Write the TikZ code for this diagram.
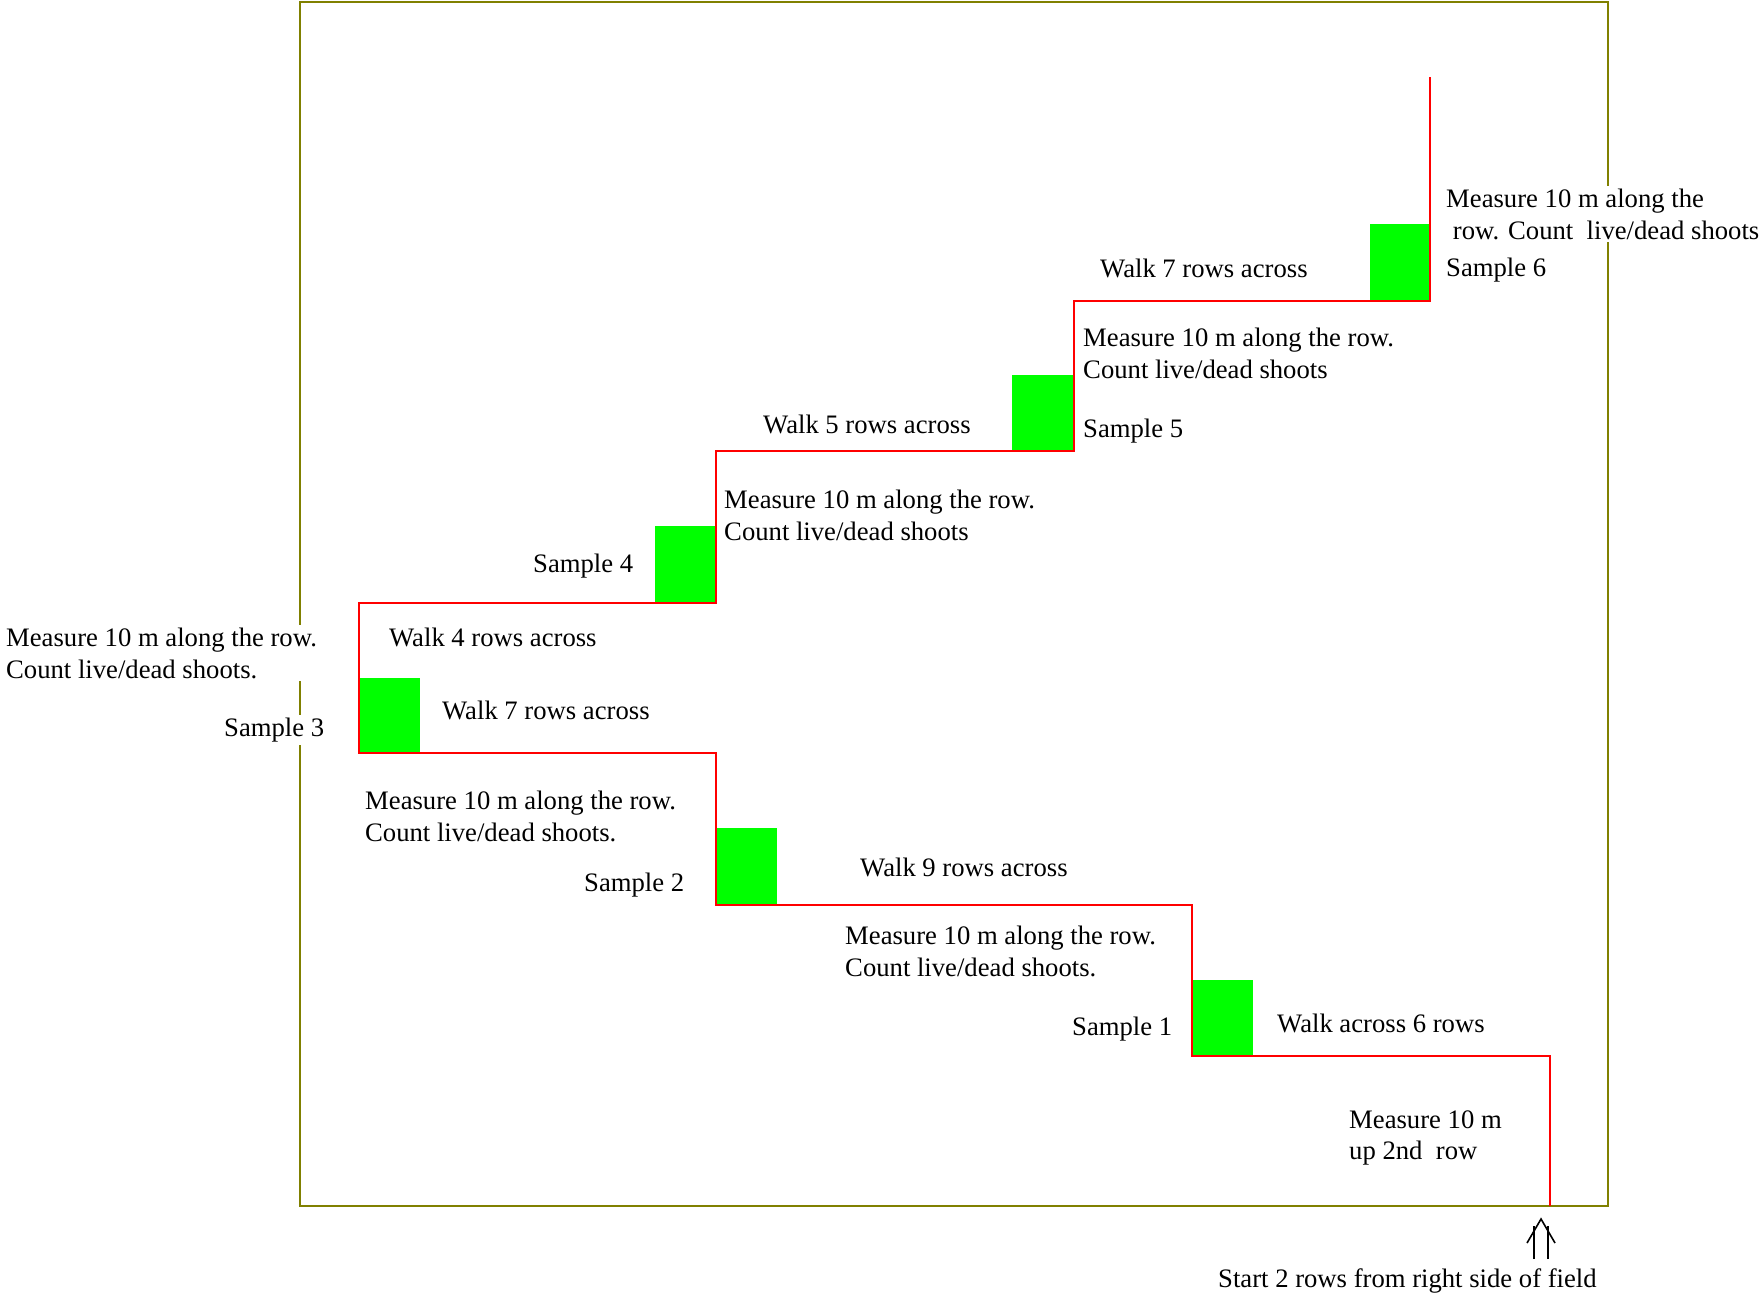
\documentclass[tikz,border=0pt]{standalone}
\usepackage{fontspec}
\setmainfont{Liberation Serif}
\definecolor{fieldolive}{RGB}{128,128,0}
\definecolor{plotgreen}{RGB}{0,255,0}

\begin{document}
\begin{tikzpicture}[x=0.375pt,y=-0.375pt,
  field/.style={draw=fieldolive,line width=0.7pt},
  route/.style={draw=red,line width=0.75pt},
  plot/.style={fill=plotgreen},
  lbl/.style={anchor=west,inner sep=1pt,align=left,yshift=-1.2pt,font=\fontsize{10}{11.8}\selectfont},
  lblw/.style={lbl,fill=white}]
\useasboundingbox (0,0) rectangle (1760,1294);
% the field
\draw [field] (300,2) rectangle (1608,1206);
% sample plots
\fill [plot] (1192,980) rectangle (1253,1056);
\fill [plot] (716,828) rectangle (777,905);
\fill [plot] (359,678) rectangle (420,753);
\fill [plot] (655,526) rectangle (716,603);
\fill [plot] (1012,375) rectangle (1074,451);
\fill [plot] (1370,224) rectangle (1430,301);
% walking route
\draw [route] (1550,1206) -- (1550,1056) -- (1192,1056) -- (1192,905) -- (716,905)
  -- (716,753) -- (359,753) -- (359,603) -- (716,603) -- (716,451) -- (1074,451)
  -- (1074,301) -- (1430,301) -- (1430,77);
% labels
\node [lbl] (up) at (1346,1135) {Measure 10 m\\up 2nd\ \ row};
\node [lbl] (walk1) at (1274,1020) {Walk across 6 rows};
\node [lbl] (samp1) at (1069,1026) {Sample 1};
\node [lbl] (meas1) at (842,948) {Measure 10 m along the row.\\Count live/dead shoots.};
\node [lbl] (walk2) at (857,864) {Walk 9 rows across};
\node [lbl] (samp2) at (581,882) {Sample 2};
\node [lbl] (meas2) at (362,813) {Measure 10 m along the row.\\Count live/dead shoots.};
\node [lbl] (walk3) at (439,707) {Walk 7 rows across};
\node [lblw] (samp3) at (221,727) {Sample 3};
\node [lblw] (meas3) at (3,650) {Measure 10 m along the row.\\Count live/dead shoots.};
\node [lbl] (walk4) at (386,634) {Walk 4 rows across};
\node [lbl] (samp4) at (530,563) {Sample 4};
\node [lbl] (meas4) at (721,512) {Measure 10 m along the row.\\Count live/dead shoots};
\node [lbl] (walk5) at (760,421) {Walk 5 rows across};
\node [lbl] (samp5) at (1080,428) {Sample 5};
\node [lbl] (meas5) at (1080,350) {Measure 10 m along the row.\\Count live/dead shoots};
\node [lbl] (walk6) at (1097,265) {Walk 7 rows across};
\node [lblw] (meas6) at (1443,211) {Measure 10 m along the\\\ row. Count\ \ live/dead shoots};
\node [lbl] (samp6) at (1443,267) {Sample 6};
% start marker
\draw [line width=0.6pt] (1534,1259) -- (1534,1226) (1548,1259) -- (1548,1226);
\draw [line width=0.6pt] (1527,1243) -- (1541,1219) -- (1555,1243);
\node [lbl] (start) at (1215,1278) {Start 2 rows from right side of field};
\end{tikzpicture}
\end{document}
